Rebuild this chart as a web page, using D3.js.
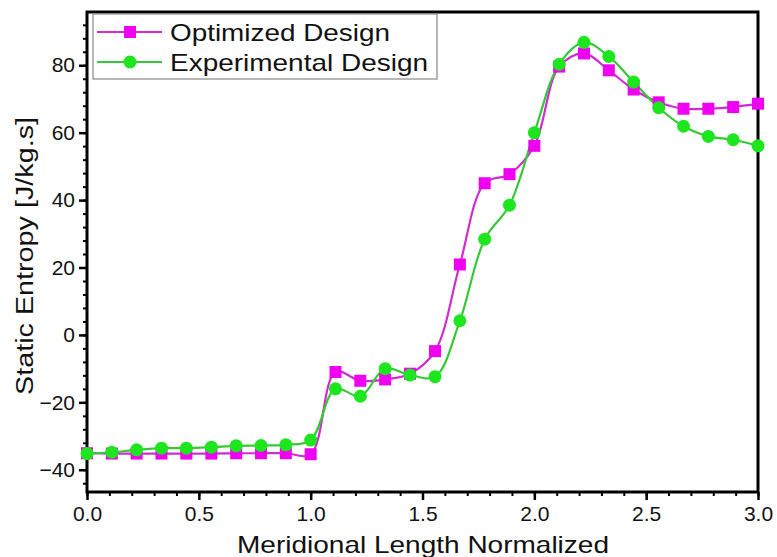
<!DOCTYPE html>
<html>
<head>
<meta charset="utf-8">
<script src="https://cdn.jsdelivr.net/npm/d3@7"></script>
<style>
  body { margin: 0; background: #fff; }
  text { font-family: "Liberation Sans", Arial, sans-serif; }
</style>
</head>
<body>
<script>
var w = 777;
var h = 557;

// data
var xs = [0, 0.111, 0.222, 0.333, 0.444, 0.556, 0.667, 0.778, 0.889, 1.0,
          1.111, 1.222, 1.333, 1.444, 1.556, 1.667, 1.778, 1.889, 2.0,
          2.111, 2.222, 2.333, 2.444, 2.556, 2.667, 2.778, 2.889, 3.0];
var optimized = [-35.1, -35.2, -35.2, -35.2, -35.2, -35.2, -35.1, -35.1, -35.1, -35.4,
                 -11.0, -13.6, -13.2, -11.5, -4.8, 20.9, 45.0, 47.7, 56.1,
                 79.6, 83.5, 78.5, 72.8, 69.0, 67.1, 67.1, 67.6, 68.6];
var experimental = [-35.2, -34.8, -34.1, -33.6, -33.6, -33.3, -32.9, -32.8, -32.6, -31.2,
                    -16.0, -18.2, -10.0, -11.9, -12.4, 4.2, 28.4, 38.5, 60.0,
                    80.3, 86.8, 82.6, 75.0, 67.4, 61.9, 58.9, 57.9, 56.1];
var xTicks = [0, 0.5, 1.0, 1.5, 2.0, 2.5, 3.0];
var yTicks = [-40, -20, 0, 20, 40, 60, 80];
var seriesNames = ["Optimized Design", "Experimental Design"];

var pL = 87, pR = 758, pT = 12, pB = 492;

var svg = d3.select("body").append("svg")
          .attr("width", w)
          .attr("height", h);

var x = d3.scaleLinear().domain([0, 3]).range([pL, pR]);
var y = d3.scaleLinear().domain([-46.6, 95.8]).range([pB, pT]);

// minor ticks
var xMinor = d3.range(0, 3.0001, 0.1);
var yMinor = d3.range(-44, 96, 4);

var xAxis = d3.axisBottom(x).tickValues(xTicks).tickFormat(d3.format(".1f"))
              .tickSize(8).tickPadding(6);
var yAxis = d3.axisLeft(y).tickValues(yTicks).tickFormat(d3.format("d"))
              .tickSize(8).tickPadding(4);

svg.append("g")
   .attr("transform", "translate(0," + pB + ")")
   .call(d3.axisBottom(x).tickValues(xMinor).tickSize(4).tickFormat(""))
   .call(function(g) { g.select(".domain").remove(); })
   .selectAll("line").attr("stroke-width", 2);

svg.append("g")
   .attr("transform", "translate(" + pL + ",0)")
   .call(d3.axisLeft(y).tickValues(yMinor).tickSize(4).tickFormat(""))
   .call(function(g) { g.select(".domain").remove(); })
   .selectAll("line").attr("stroke-width", 2);

var gx = svg.append("g")
   .attr("transform", "translate(0," + pB + ")")
   .call(xAxis);
gx.select(".domain").remove();
gx.selectAll("line").attr("stroke-width", 2.5);
gx.selectAll("text").attr("font-size", 21).attr("fill", "#111");

var gy = svg.append("g")
   .attr("transform", "translate(" + pL + ",0)")
   .call(yAxis);
gy.select(".domain").remove();
gy.selectAll("line").attr("stroke-width", 2.5);
gy.selectAll("text").attr("font-size", 21).attr("fill", "#111");

// frame
svg.append("rect")
   .attr("x", pL)
   .attr("y", pT)
   .attr("width", pR - pL)
   .attr("height", pB - pT)
   .attr("fill", "none")
   .attr("stroke", "black")
   .attr("stroke-width", 3);

var line = d3.line()
   .x(function(d) { return x(d[0]); })
   .y(function(d) { return y(d[1]); })
   .curve(d3.curveCatmullRom.alpha(0.5));

var optData = xs.map(function(v, i) { return [v, optimized[i]]; });
var expData = xs.map(function(v, i) { return [v, experimental[i]]; });

svg.append("path")
   .attr("d", line(optData))
   .attr("fill", "none")
   .attr("stroke", "#d02cd0")
   .attr("stroke-width", 2.2);

svg.append("path")
   .attr("d", line(expData))
   .attr("fill", "none")
   .attr("stroke", "#36c836")
   .attr("stroke-width", 2.2);

svg.selectAll(".sq")
   .data(optData)
   .enter().append("rect")
   .attr("x", function(d) { return x(d[0]) - 6; })
   .attr("y", function(d) { return y(d[1]) - 6; })
   .attr("width", 12)
   .attr("height", 12)
   .attr("fill", "#f000f0");

svg.selectAll(".dot")
   .data(expData)
   .enter().append("circle")
   .attr("cx", function(d) { return x(d[0]); })
   .attr("cy", function(d) { return y(d[1]); })
   .attr("r", 6.5)
   .attr("fill", "#1ee61e");

// legend
var legend = svg.append("g");
legend.append("rect")
   .attr("x", 93)
   .attr("y", 14)
   .attr("width", 344)
   .attr("height", 65)
   .attr("fill", "white")
   .attr("stroke", "#888")
   .attr("stroke-width", 1.2);

legend.append("line")
   .attr("x1", 97).attr("x2", 162)
   .attr("y1", 32).attr("y2", 32)
   .attr("stroke", "#d02cd0").attr("stroke-width", 2.2);
legend.append("rect")
   .attr("x", 124).attr("y", 26)
   .attr("width", 12).attr("height", 12)
   .attr("fill", "#f000f0");
legend.append("line")
   .attr("x1", 97).attr("x2", 162)
   .attr("y1", 62).attr("y2", 62)
   .attr("stroke", "#36c836").attr("stroke-width", 2.2);
legend.append("circle")
   .attr("cx", 130).attr("cy", 62)
   .attr("r", 6.5)
   .attr("fill", "#1ee61e");

var legendWidths = [220, 258];
legend.selectAll(".lt")
   .data(seriesNames)
   .enter().append("text")
   .attr("x", 170)
   .attr("y", function(d, i) { return 41 + i * 30; })
   .attr("font-size", 24)
   .attr("textLength", function(d, i) { return legendWidths[i]; })
   .attr("lengthAdjust", "spacingAndGlyphs")
   .attr("fill", "#111")
   .text(function(d) { return d; });

// axis titles
svg.append("text")
   .attr("x", 423)
   .attr("y", 553)
   .attr("text-anchor", "middle")
   .attr("font-size", 24)
   .attr("textLength", 372)
   .attr("lengthAdjust", "spacingAndGlyphs")
   .attr("fill", "#111")
   .text("Meridional Length Normalized");

svg.append("text")
   .attr("transform", "translate(33,256) rotate(-90)")
   .attr("text-anchor", "middle")
   .attr("font-size", 23)
   .attr("textLength", 278)
   .attr("lengthAdjust", "spacingAndGlyphs")
   .attr("fill", "#111")
   .text("Static Entropy [J/kg.s]");
</script>
</body>
</html>
